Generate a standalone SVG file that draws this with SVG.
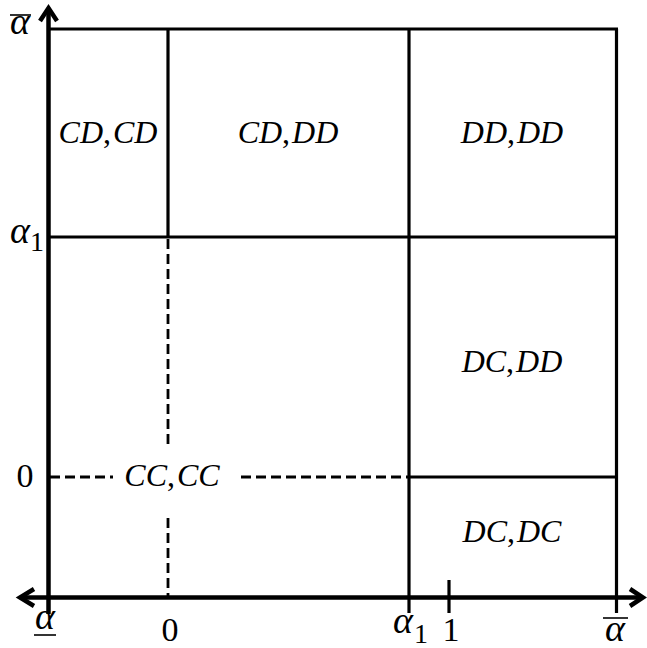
<svg xmlns="http://www.w3.org/2000/svg" width="647" height="648" viewBox="0 0 647 648">
<style>
.ax{stroke:#000;stroke-width:4.5;fill:none;stroke-linecap:butt}
.ah{stroke:#000;stroke-width:4.5;fill:none;stroke-linejoin:miter}
.bx{stroke:#000;stroke-width:3.2;fill:none}
.ds{stroke:#000;stroke-width:2.8;fill:none;stroke-dasharray:10 5}
.ol{stroke:#000;stroke-width:1.6}
.lb{font-family:"Liberation Serif","Times New Roman",serif;font-size:32px;font-style:italic;text-anchor:middle}
.al{font-family:"Liberation Serif","Times New Roman",serif;font-size:38px;font-style:italic;text-anchor:middle}
.tk{font-family:"Liberation Serif","Times New Roman",serif;font-size:34px;text-anchor:middle}
.sb{font-family:"Liberation Serif","Times New Roman",serif;font-size:28px;text-anchor:start}
</style>
<rect width="647" height="648" fill="#fff"/>
<g id="connectors">
<line class="bx" x1="48" y1="29" x2="618" y2="29"/>
<line class="bx" x1="616.5" y1="29" x2="616.5" y2="613"/>
<line class="bx" x1="168" y1="29" x2="168" y2="237"/>
<line class="bx" x1="409" y1="29" x2="409" y2="613"/>
<line class="bx" x1="48" y1="237" x2="618" y2="237"/>
<line class="bx" x1="409" y1="477" x2="618" y2="477"/>
<line class="bx" x1="449" y1="580" x2="449" y2="613"/>
<line class="ds" x1="168" y1="239" x2="168" y2="446"/>
<line class="ds" x1="168" y1="518" x2="168" y2="596"/>
<line class="ds" x1="50" y1="477" x2="113" y2="477"/>
<line class="ds" x1="241" y1="477" x2="408" y2="477"/>
<line class="ax" x1="48.5" y1="8" x2="48.5" y2="614"/>
<line class="ax" x1="20" y1="597.5" x2="643" y2="597.5"/>
<polyline class="ah" points="40,21 48.5,8 57,21"/>
<polyline class="ah" points="34,589 20,597.5 34,606"/>
<polyline class="ah" points="630,589 643,597.5 630,606"/>
</g>
<g id="cell-cdcd"><text class="lb" x="108" y="143">CD<tspan font-style="normal">,</tspan><tspan dx="2">CD</tspan></text></g>
<g id="cell-cddd"><text class="lb" x="288" y="143">CD<tspan font-style="normal">,</tspan><tspan dx="2">DD</tspan></text></g>
<g id="cell-dddd"><text class="lb" x="512" y="143">DD<tspan font-style="normal">,</tspan><tspan dx="2">DD</tspan></text></g>
<g id="cell-dcdd"><text class="lb" x="512" y="372">DC<tspan font-style="normal">,</tspan><tspan dx="2">DD</tspan></text></g>
<g id="cell-dcdc"><text class="lb" x="512" y="542">DC<tspan font-style="normal">,</tspan><tspan dx="2">DC</tspan></text></g>
<g id="cell-cccc"><text class="lb" x="172" y="486">CC<tspan font-style="normal">,</tspan><tspan dx="2">CC</tspan></text></g>
<g id="y-labels">
<text class="al" x="20" y="34">α</text>
<line class="ol" x1="10" y1="15" x2="31" y2="15"/>
<text class="al" x="20" y="243">α</text>
<text class="sb" x="30" y="251">1</text>
<text class="tk" x="25" y="487">0</text>
</g>
<g id="x-labels">
<text class="al" x="45" y="629">α</text>
<line class="ol" x1="34" y1="635" x2="56" y2="635"/>
<text class="tk" x="170" y="641">0</text>
<text class="al" x="403" y="633">α</text>
<text class="sb" x="414" y="643">1</text>
<text class="tk" x="451" y="641">1</text>
<text class="al" x="615" y="641">α</text>
<line class="ol" x1="603" y1="618" x2="628" y2="618"/>
</g>
</svg>
